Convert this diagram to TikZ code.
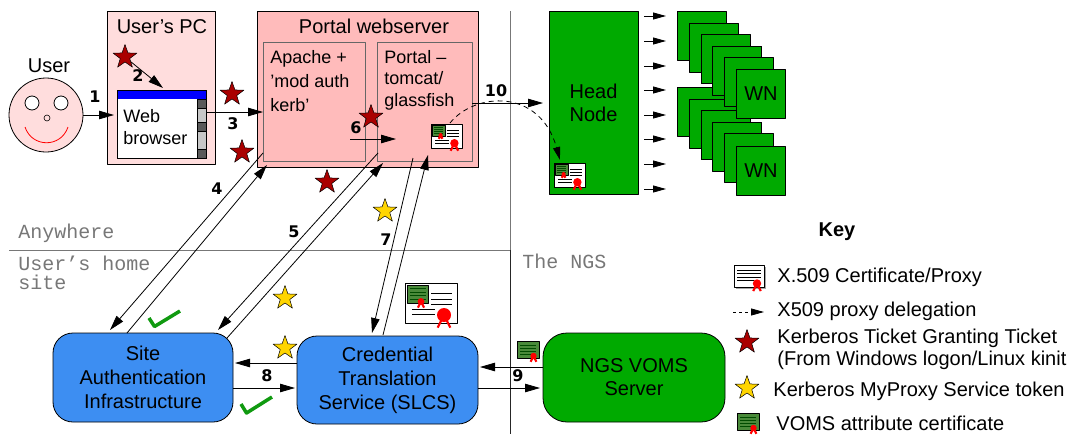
\documentclass[tikz,border=0pt]{standalone}
\usepackage{fontspec}
\setmainfont{Liberation Sans}
\setmonofont{Liberation Mono}
\newfontfamily\numfont{DejaVu Sans}
\usetikzlibrary{shapes.geometric,arrows.meta}

\definecolor{softpink}{HTML}{FFDDDD}
\definecolor{portalpink}{HTML}{FFBBBB}
\definecolor{siteblue}{HTML}{3D8EF2}
\definecolor{gridgreen}{HTML}{00AA00}
\definecolor{attrgreen}{HTML}{4A8A3A}
\definecolor{ticketred}{HTML}{AA0000}
\definecolor{tokenyellow}{HTML}{FFD500}
\definecolor{tickgreen}{HTML}{109A10}
\definecolor{zonegray}{HTML}{777777}

% red wax seal: centre x, centre y, radius (in picture units)
\newcommand\certseal[3]{%
  \draw[red, line width=2.2pt] (#1,#2) -- ++(-0.9*#3,1.8*#3) (#1,#2) -- ++(0.9*#3,1.8*#3);
  \fill[red] (#1,#2) ellipse [x radius=#3, y radius=#3];
}

\tikzset{
  % X.509 certificate carrying an attribute certificate
  fullcert/.pic={
    \draw[fill=white, line width=0.6pt] (0,0) rectangle (52,40);
    \draw[fill=attrgreen, line width=0.5pt] (2,2) rectangle (23,20);
    \foreach \v in {5.5,9,12.5,16} \draw[black!70!green, line width=0.7pt] (4.5,\v) -- (20.5,\v);
    \foreach \v in {10.5,16,21} \draw[line width=0.6pt] (26,\v) -- (47,\v);
    \foreach \v in {26.5,31.5} \draw[line width=0.6pt] (7,\v) -- (30,\v);
    \certseal{16}{18.5}{3.4}
    \certseal{39}{32}{7}
  },
  % plain X.509 certificate
  plaincert/.pic={
    \fill[black!35] (1.5,1.5) rectangle (32,23.5);
    \draw[fill=white, line width=0.6pt] (0,0) rectangle (30.5,22);
    \foreach \v in {5,8.5,12} \draw[line width=0.6pt] (3,\v) -- (27,\v);
    \draw[line width=0.6pt] (3,15.5) -- (20,15.5);
    \certseal{23}{18.5}{4.2}
  },
  % VOMS attribute certificate
  vomscert/.pic={
    \draw[fill=attrgreen, line width=0.6pt] (0,0) rectangle (22,17);
    \foreach \v in {4,7,10,13} \draw[black!70!green, line width=0.7pt] (3,\v) -- (19,\v);
    \certseal{16.5}{15}{3.2}
  }
}

\begin{document}
\begin{tikzpicture}[x=1pt, y=-1pt, line width=0.8pt, line join=round,
  plainbox/.style={draw, anchor=north west, inner sep=0, outer sep=0},
  rbox/.style={draw, anchor=north west, inner sep=0, outer sep=0, rounded corners=20pt,
    align=center, font=\fontsize{20}{24}\selectfont},
  wnbox/.style={draw, fill=gridgreen, anchor=north west, inner sep=0,
    minimum width=49, minimum height=49, font=\fontsize{20}{24}\selectfont},
  ttl/.style={inner sep=0, font=\fontsize{20}{24}\selectfont},
  lbl/.style={inner sep=0, anchor=north west, align=left},
  steplbl/.style={inner sep=0, font=\numfont\bfseries\fontsize{16}{16}\selectfont},
  zone/.style={inner sep=0, text=zonegray, font=\ttfamily\fontsize{20}{19}\selectfont},
  keytxt/.style={inner sep=0, anchor=west, font=\fontsize{20}{22}\selectfont},
  tgt/.style={star, star points=5, star point ratio=2.5, minimum size=25, inner sep=0,
    draw=black, line width=0.5pt, fill=ticketred},
  tok/.style={tgt, fill=tokenyellow},
  arr/.style={-{Triangle[length=15pt,width=8.5pt]}, line width=0.8pt},
  sarr/.style={-{Triangle[length=13pt,width=7pt]}, line width=0.8pt},
  tick/.style={tickgreen, line width=3.5pt}]

\useasboundingbox (0,0) rectangle (1073,434);

% zone dividers and their names
\draw[zonegray] (9,250) -- (510,250);
\draw[zonegray] (510,11) -- (510,250);
\draw[black!85] (510,250) -- (510,434);
\node[zone, anchor=base west] (zany) at (18,238) {Anywhere};
\node[zone, anchor=north west, align=left] (zhome) at (18,256) {User’s home\\site};
\node[zone, anchor=base west] (zngs) at (522,268) {The NGS};

% the user
\node[ttl] (userlbl) at (49,66) {User};
\node[circle, draw, fill=softpink, minimum size=74, inner sep=0] (user) at (46,115) {};
\draw[fill=white] (32,103) circle (7);
\draw[fill=white] (61,103) circle (7);
\draw[line width=0.6pt] (47,118) circle (3);
\draw[red] (25,127) .. controls (32,148) and (61,148) .. (68,127);

% user's PC with web browser
\node[plainbox, fill=softpink, minimum width=108, minimum height=153] (pc) at (107,11) {};
\node[ttl] (pclbl) at (162,27) {User’s PC};
\node[plainbox, fill=white, minimum width=89, minimum height=68] (browser) at (117,90) {};
\fill[blue] (117,90) rectangle (206,99);
\foreach \a/\b/\c in {99/108/black!65, 108/122/black!22, 122/131/black!65, 131/149/black!22, 149/158/black!65}
  \draw[fill=\c, line width=0.5pt] (197,\a) rectangle (206,\b);
\draw (117,90) rectangle (206,158);
\node[lbl, font=\fontsize{18}{22}\selectfont] (webtxt) at (123,109) {Web\\browser};

\node[tgt] (st2) at (125,57) {};
\coordinate (b2) at (163,88);
\draw[arr] (st2) -- (b2);
\node[steplbl] (n2) at (138,76) {2};

\draw[arr, shorten >=3pt] (user) -- (user -| browser.west);
\node[steplbl] (n1) at (95,97) {1};

% portal webserver
\node[plainbox, fill=portalpink, minimum width=221, minimum height=156] (portal) at (257,11) {};
\node[ttl] (portallbl) at (374,26) {Portal webserver};
\node[plainbox, draw=black!60, fill=portalpink, minimum width=102, minimum height=119] (apache) at (263,42) {};
\node[plainbox, draw=black!60, fill=portalpink, minimum width=95, minimum height=119] (tomcat) at (377,42) {};
\node[lbl, font=\fontsize{18}{24}\selectfont] (apachetxt) at (270,50) {Apache +\\’mod auth\\kerb’};
\node[lbl, font=\fontsize{18}{21.5}\selectfont] (tomcattxt) at (384,50) {Portal –\\tomcat/\\glassfish};

\draw[arr] (browser.east |- 0,112) -- (apache.west |- 0,112);
\node[steplbl] (n3) at (233,124) {3};
\node[tgt] (st3a) at (232,94) {};
\node[tgt] (st3b) at (242,152) {};

\coordinate (a6s) at (350,139);
\coordinate (a6e) at (396,139);
\draw[arr] (a6s) -- (a6e);
\node[steplbl] (n6) at (356,128) {6};
\node[tgt] (st6) at (371,117) {};

\pic[scale=0.6] at (431,124) {fullcert};

% head node and worker nodes
\node[plainbox, fill=gridgreen, minimum width=89, minimum height=183, align=center,
  font=\fontsize{20}{23}\selectfont] (head) at (549,11) {Head\\Node};
\pic[scale=0.6] at (554,163) {fullcert};

\draw[arr, shorten >=6pt] (tomcat.east |- 0,103) -- (head.west |- 0,103);
\node[steplbl] (n10) at (496,91) {10};
\coordinate (certout) at (450,123);
\coordinate (certin) at (560,160);
\draw[sarr, dashed, dash pattern=on 5pt off 4pt] (certout) .. controls (475,92) and (540,88) .. (certin);

\foreach \y in {16,41,66,90,115,139,164,189}
  \draw[sarr] (head.east |- 0,\y) ++(6,0) -- ++(22,0);

\foreach \i in {0,...,4}
  \node[wnbox] (wnb\i) at ({677+11.8*\i},{87+11.6*\i}) {};
\node[wnbox] (wnb5) at (736,146) {WN};
\foreach \i in {0,...,4}
  \node[wnbox] (wnt\i) at ({677+11.8*\i},{11+11.6*\i}) {};
\node[wnbox] (wnt5) at (736,69) {WN};

% home-site services
\node[rbox, fill=siteblue, minimum width=180, minimum height=89] (sai) at (53,333) {Site\\Authentication\\Infrastructure};
\node[rbox, fill=siteblue, minimum width=181, minimum height=88] (cts) at (297,336) {Credential\\Translation\\Service (SLCS)};
\node[rbox, fill=gridgreen, rounded corners=24pt, minimum width=182, minimum height=89,
  font=\fontsize{20}{23}\selectfont] (voms) at (543,333) {NGS VOMS\\Server};

% steps 4, 5, 7 between webserver and home site
\coordinate (p4a) at (263,153);
\coordinate (s4a) at (110,330);
\coordinate (s4b) at (127,333);
\coordinate (p4b) at (267,165);
\draw[arr] (p4a) -- (s4a);
\draw[arr] (s4b) -- (p4b);
\node[steplbl] (n4) at (217,189) {4};

\coordinate (p5a) at (378,153);
\coordinate (s5a) at (218,330);
\coordinate (s5b) at (227,338);
\coordinate (p5b) at (383,163);
\draw[arr] (p5a) -- (s5a);
\draw[arr] (s5b) -- (p5b);
\node[steplbl] (n5) at (294,232) {5};
\node[tgt] (st5) at (327,182) {};

\coordinate (p7a) at (413,158);
\coordinate (c7a) at (372,333);
\coordinate (c7b) at (383,335);
\coordinate (p7b) at (428,155);
\draw[arr] (p7a) -- (c7a);
\draw[arr] (c7b) -- (p7b);
\node[steplbl] (n7) at (386,240) {7};
\node[tok] (st7) at (385,211) {};

\node[tok] (st8a) at (285,298) {};
\node[tok] (st8b) at (285,348) {};
\draw[tick] (149,318) -- (154.5,326.5) -- (180,311);
\draw[tick] (241,404) -- (246.5,413) -- (272,397);
\pic at (405,283) {fullcert};

% steps 8 and 9
\draw[arr, shorten >=2pt] (cts.west |- 0,363) -- (sai.east |- 0,363);
\draw[arr, shorten >=2pt] (sai.east |- 0,388) -- (cts.west |- 0,388);
\node[steplbl] (n8) at (267,376) {8};
\draw[arr, shorten >=2pt] (voms.west |- 0,367) -- (cts.east |- 0,367);
\draw[arr, shorten >=3pt] (cts.east |- 0,388) -- (voms.west |- 0,388);
\node[steplbl] (n9) at (518,376) {9};
\pic at (517,341) {vomscert};

% key
\node[inner sep=0, font=\bfseries\fontsize{20}{24}\selectfont] (keyttl) at (837,232) {Key};
\pic at (734,265) {plaincert};
\node[keytxt] (k1) at (777,277) {X.509 Certificate/Proxy};
\coordinate (kd1) at (733,312);
\coordinate (kd2) at (764,312);
\draw[sarr, dashed, dash pattern=on 3pt off 3pt] (kd1) -- (kd2);
\node[keytxt] (k2) at (777,311) {X509 proxy delegation};
\node[tgt] (kst1) at (747,342) {};
\node[keytxt, align=left] (k3) at (777,349) {Kerberos Ticket Granting Ticket\\(From Windows logon/Linux kinit};
\node[tok] (kst2) at (747,388) {};
\node[keytxt] (k4) at (773,391) {Kerberos MyProxy Service token};
\pic at (737,413) {vomscert};
\node[keytxt] (k5) at (776,423) {VOMS attribute certificate};

\end{tikzpicture}
\end{document}
